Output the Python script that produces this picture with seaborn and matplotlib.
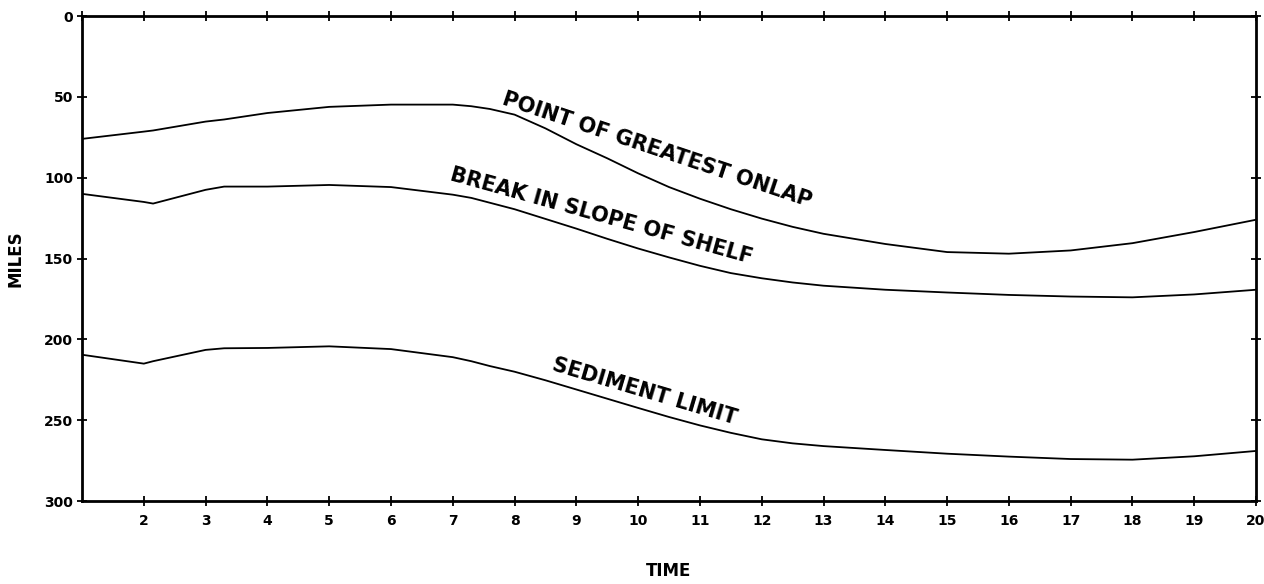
import matplotlib
matplotlib.use("Agg")
import matplotlib.pyplot as plt
import pandas as pd
import seaborn as sns

# Shoreline-position curves (miles) through time
time = [1, 2, 2.15, 3, 3.3, 4, 5, 6, 7, 7.3, 7.6, 8, 8.5, 9, 9.5, 10, 10.5, 11, 11.5,
        12, 12.5, 13, 14, 15, 16, 17, 18, 19, 20]
onlap = [76, 71.5, 70.8, 65.3, 64, 60, 56.2, 54.8, 54.8, 55.8, 57.5, 61, 69.5, 79.3, 88,
         97.3, 105.8, 113, 119.5, 125.3, 130.4, 134.7, 141, 146, 147, 145, 140.5, 133.6, 126]
shelf_break = [110, 115, 116, 107.5, 105.5, 105.5, 104.5, 105.8, 110.5, 112.5, 115.5,
               119.5, 125.5, 131.5, 137.8, 143.8, 149.3, 154.5, 159, 162.2, 164.8, 166.8,
               169.3, 171, 172.5, 173.5, 174, 172.2, 169.3]
sediment_limit = [209.5, 215, 213.5, 206.5, 205.5, 205.3, 204.3, 206, 211, 213.5, 216.5,
                  220, 225.3, 231, 236.7, 242.4, 248, 253.2, 257.8, 261.8, 264.3, 266,
                  268.4, 270.7, 272.5, 274, 274.4, 272.3, 269]

series_names = ["POINT OF GREATEST ONLAP", "BREAK IN SLOPE OF SHELF", "SEDIMENT LIMIT"]
x_ticks = list(range(2, 21))
y_ticks = [0, 50, 100, 150, 200, 250, 300]

df = pd.DataFrame({
    "TIME": time * 3,
    "MILES": onlap + shelf_break + sediment_limit,
    "curve": [series_names[0]] * len(time) + [series_names[1]] * len(time)
             + [series_names[2]] * len(time),
})

sns.set_theme(style="ticks")
plt.rcParams["font.family"] = ["DejaVu Sans"]
plt.rcParams["font.weight"] = "bold"
plt.rcParams["text.color"] = "black"
plt.rcParams["axes.labelcolor"] = "black"
plt.rcParams["xtick.color"] = "black"
plt.rcParams["ytick.color"] = "black"

fig = plt.figure(figsize=(12.64, 5.84), dpi=100)
ax = fig.add_axes([0.0649, 0.142, 0.9288, 0.8306])

sns.lineplot(data=df, x="TIME", y="MILES", hue="curve", palette=["black"] * 3,
             linewidth=1.3, legend=False, ax=ax, sort=False)

ax.set_xlim(1, 20)
ax.set_ylim(300, 0)
ax.set_xticks(x_ticks)
ax.set_xticklabels([str(t) for t in x_ticks])
ax.set_yticks(y_ticks)
ax.set_yticklabels([str(v) for v in y_ticks])

# Cross-style tick marks on every side of the frame
ax.tick_params(axis="both", which="both", direction="inout", length=7, width=1.3,
               color="black", labelsize=10, labelcolor="black",
               top=True, right=True, labeltop=False, labelright=False)
ax.tick_params(axis="x", pad=6)
ax.tick_params(axis="y", pad=3)
ax.set_xticks(list(range(1, 21)), minor=True)
ax.tick_params(axis="x", which="minor", direction="inout", length=7, width=1.3,
               top=True, bottom=False)
for lab in ax.get_xticklabels() + ax.get_yticklabels():
    lab.set_fontweight("bold")

for side in ["left", "right", "top", "bottom"]:
    ax.spines[side].set_visible(True)
    ax.spines[side].set_linewidth(2.0)
    ax.spines[side].set_color("black")

ax.set_xlabel("TIME", fontsize=12, fontweight="bold", labelpad=24)
ax.set_ylabel("MILES", fontsize=12, fontweight="bold", labelpad=14)

# Curve labels set along each line
label_style = dict(fontsize=15, fontweight="bold", ha="center", va="center",
                   rotation_mode="anchor", color="black")
ax.text(10.3, 83, series_names[0], rotation=-18.5, **label_style)
ax.text(9.4, 124, series_names[1], rotation=-15.5, **label_style)
ax.text(10.1, 232, series_names[2], rotation=-16.5, **label_style)

fig.savefig("out.png", dpi=100, facecolor="white")
